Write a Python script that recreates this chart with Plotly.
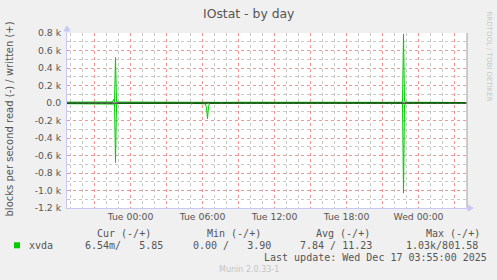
import plotly.graph_objects as go

# ---------------- data ----------------
times = [
    "2025-12-15 18:40", "2025-12-15 19:30", "2025-12-15 20:30", "2025-12-15 21:30",
    "2025-12-15 22:30", "2025-12-15 22:35", "2025-12-15 22:40", "2025-12-15 22:45",
    "2025-12-15 22:50", "2025-12-15 23:00", "2025-12-16 00:00", "2025-12-16 01:00",
    "2025-12-16 02:00", "2025-12-16 03:00", "2025-12-16 04:00", "2025-12-16 05:00",
    "2025-12-16 05:05", "2025-12-16 05:10", "2025-12-16 06:00", "2025-12-16 06:15",
    "2025-12-16 06:20", "2025-12-16 06:25", "2025-12-16 06:30", "2025-12-16 06:35",
    "2025-12-16 07:30", "2025-12-16 09:00", "2025-12-16 10:30", "2025-12-16 12:00",
    "2025-12-16 13:30", "2025-12-16 15:00", "2025-12-16 16:30", "2025-12-16 18:00",
    "2025-12-16 19:30", "2025-12-16 21:00", "2025-12-16 21:40", "2025-12-16 21:45",
    "2025-12-16 21:50", "2025-12-16 22:30", "2025-12-16 22:40", "2025-12-16 22:45",
    "2025-12-16 22:50", "2025-12-16 23:00", "2025-12-17 00:00", "2025-12-17 01:00",
    "2025-12-17 02:00", "2025-12-17 03:00", "2025-12-17 03:55",
]
# blocks per second written (+)
written = [
    10, 11, 9, 10,
    12, 40, 14, 520,
    18, 11, 9, 8,
    10, 8, 9, 8,
    7, 8, 9, 8,
    12, 10, 9, 8,
    7, 9, 8, 7,
    8, 9, 7, 8,
    9, 8, 7, 6,
    8, 9, 10, 790,
    20, 9, 8, 7,
    8, 7, 5.85,
]
# blocks per second read (-)
read = [
    8, 9, 8, 7,
    9, 10, 12, 680,
    15, 6, 4, 3,
    3, 2, 3, 3,
    15, 3, 2, 10,
    60, 180, 40, 5,
    2, 2, 2, 1,
    2, 1, 2, 2,
    1, 2, 2, 12,
    2, 2, 8, 1030,
    20, 2, 1, 1,
    1, 1, 0.00654,
]
read_neg = [-v for v in read]

x_range = ["2025-12-15 18:42:30", "2025-12-17 04:02:30"]
x_tickvals = [
    "2025-12-15 21:00", "2025-12-16 00:00", "2025-12-16 03:00", "2025-12-16 06:00",
    "2025-12-16 09:00", "2025-12-16 12:00", "2025-12-16 15:00", "2025-12-16 18:00",
    "2025-12-16 21:00", "2025-12-17 00:00", "2025-12-17 03:00",
]
x_ticktext = ["", "Tue 00:00", "", "Tue 06:00", "", "Tue 12:00", "", "Tue 18:00",
              "", "Wed 00:00", ""]
y_range = [-1200, 800]
y_tickvals = [-1200, -1000, -800, -600, -400, -200, 0, 200, 400, 600, 800]
y_ticktext = ["-1.2 k", "-1.0 k", "-0.8 k", "-0.6 k", "-0.4 k", "-0.2 k", "0.0",
              "0.2 k", "0.4 k", "0.6 k", "0.8 k"]

legend_header = ["Cur (-/+)", "Min (-/+)", "Avg (-/+)", "Max (-/+)"]
legend_values = ["6.54m/\u00a0\u00a0\u00a05.85", "0.00 /\u00a0\u00a0\u00a03.90",
                 "7.84 / 11.23", "1.03k/801.58"]
series_name = "xvda"

# ---------------- layout geometry ----------------
W, H = 497, 280
L, R, T, B = 67, 467, 33, 208
GREEN = "#00CC00"
TXT = "#555555"
SANS = "DejaVu Sans"
MONO = "DejaVu Sans Mono"


def px(xp):
    return (xp - L) / (R - L)


def py(yp):
    return (B - yp) / (B - T)


fig = go.Figure()
fig.add_trace(go.Scatter(x=times, y=read_neg, mode="lines",
                         line=dict(color=GREEN, width=1), hoverinfo="skip"))
fig.add_trace(go.Scatter(x=times, y=written, mode="lines",
                         line=dict(color=GREEN, width=1), hoverinfo="skip"))

RED_GRID = "#F29494"
GRAY_GRID = "#C8C8C8"
AXIS = "#C8C8F4"
DASH = "dot"

fig.update_layout(
    width=W, height=H,
    margin=dict(l=L, r=W - R, t=T, b=H - B, pad=0),
    paper_bgcolor="#F0F0F0", plot_bgcolor="#FFFFFF",
    showlegend=False,
    xaxis=dict(
        type="date", range=x_range, tickmode="array",
        tickvals=x_tickvals, ticktext=x_ticktext,
        showgrid=True, gridcolor=RED_GRID, griddash=DASH, gridwidth=1,
        minor=dict(dtick=3600000, tick0="2025-12-15 19:00", showgrid=True,
                   gridcolor=GRAY_GRID, griddash=DASH, gridwidth=1),
        zeroline=False, showline=True, linecolor=AXIS, linewidth=1,
        ticks="", tickfont=dict(family=SANS, size=9.3, color=TXT),
        fixedrange=True,
    ),
    yaxis=dict(
        range=y_range, tickmode="array",
        tickvals=y_tickvals, ticktext=y_ticktext,
        showgrid=True, gridcolor=RED_GRID, griddash=DASH, gridwidth=1,
        minor=dict(dtick=100, showgrid=True,
                   gridcolor=GRAY_GRID, griddash=DASH, gridwidth=1),
        zeroline=False, showline=True, linecolor=AXIS, linewidth=1,
        ticks="outside", ticklen=3, tickcolor="rgba(0,0,0,0)",
        tickfont=dict(family=SANS, size=9.3, color=TXT),
        fixedrange=True,
    ),
)

shapes = [
    # zero rule
    dict(type="line", xref="paper", yref="y", x0=0, x1=1, y0=0, y1=0,
         line=dict(color="#000000", width=1), layer="above"),
    # right frame
    dict(type="line", xref="paper", yref="paper", x0=1, x1=1, y0=0, y1=1,
         line=dict(color="#A0A0A0", width=1), layer="above"),
    # y-axis arrow
    dict(type="path", xref="paper", yref="paper", xsizemode="pixel", ysizemode="pixel",
         xanchor=0, yanchor=1, path="M 0,0 L 0,2 M -3,2 L 3,2 L 0,7 Z",
         fillcolor=AXIS, line=dict(color=AXIS, width=1), layer="above"),
    # x-axis arrow
    dict(type="path", xref="paper", yref="paper", xsizemode="pixel", ysizemode="pixel",
         xanchor=1, yanchor=0, path="M 0,0 L 1,0 M 1,-3 L 1,3 L 6,0 Z",
         fillcolor=AXIS, line=dict(color=AXIS, width=1), layer="above"),
    # legend swatch
    dict(type="rect", xref="paper", yref="paper", x0=px(14), x1=px(20),
         y0=py(248.3), y1=py(242.3), fillcolor=GREEN, line=dict(width=0)),
]
fig.update_layout(shapes=shapes)

ann = []


def text(s, x, y, size, font=SANS, color=TXT, xanchor="left", angle=0):
    ann.append(dict(text=s, x=px(x), y=py(y), xref="paper", yref="paper",
                    showarrow=False, xanchor=xanchor, yanchor="middle",
                    textangle=angle, font=dict(family=font, size=size, color=color)))


text("IOstat - by day", 248.5, 13.5, 12.4, xanchor="center")
text("blocks per second read (-) / written (+)", 9, 119.5, 10, xanchor="center", angle=-90)
text("RRDTOOL / TOBI OETIKER", 488.5, 56, 7, color="#C8C8C8", xanchor="center", angle=90)

for s, x in zip(legend_header, [95, 205, 314, 424]):
    text(s, x, 233.5, 10, font=MONO)
text(series_name, 26.5, 245.5, 10, font=MONO)
for s, x in zip(legend_values, [83.3, 190.7, 297.7, 404.3]):
    text(s, x, 245.5, 10, font=MONO)
text("Last update: Wed Dec 17 03:55:00 2025", 261.5, 257.5, 10, font=MONO)
text("Munin 2.0.33-1", 248.5, 269.5, 8, color="#C4C4C4", xanchor="center")

fig.update_layout(annotations=ann)
fig.write_html("out.html", config={"displayModeBar": False})
